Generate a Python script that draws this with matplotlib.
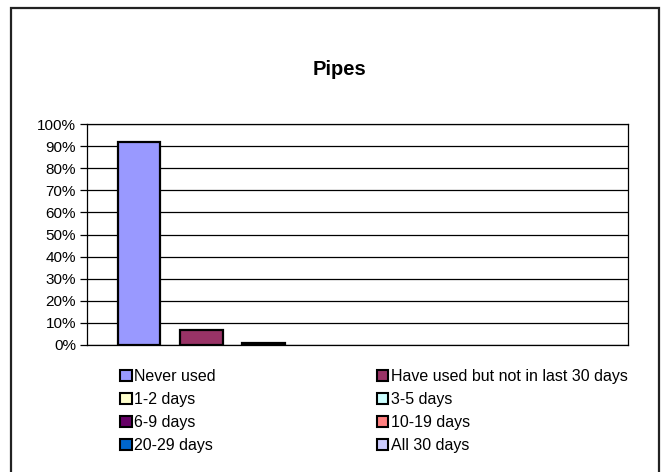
import matplotlib.pyplot as plt
from matplotlib.patches import Rectangle
from matplotlib.ticker import PercentFormatter

plt.rcParams["font.family"] = ["Liberation Sans", "DejaVu Sans"]
plt.rcParams["font.size"] = 11

# data
categories = ["Never used", "Have used but not in last 30 days", "1-2 days", "3-5 days",
              "6-9 days", "10-19 days", "20-29 days", "All 30 days"]
values = [92, 7, 1, 0, 0, 0, 0, 0]
colors = ["#9999FF", "#993366", "#FFFFCC", "#CCFFFF", "#660066", "#FF8080", "#0066CC", "#CCCCFF"]

fig = plt.figure(figsize=(6.66, 4.72), dpi=100)
ax = fig.add_axes([87 / 666, 127 / 472, 541 / 666, 221 / 472])

x = list(range(len(categories)))
for i, v in enumerate(values):
    if v > 0:
        ax.bar(x[i], v, width=0.68, color=colors[i], edgecolor="black", linewidth=1.6, zorder=3)

ax.set_xlim(-0.84, 7.86)
ax.set_ylim(0, 100)
ax.set_yticks(range(0, 101, 10))
ax.yaxis.set_major_formatter(PercentFormatter(decimals=0))
ax.set_xticks([])
ax.grid(axis="y", color="black", linewidth=0.9, zorder=0)
for s in ax.spines.values():
    s.set_linewidth(0.9)
ax.tick_params(axis="y", length=5, width=0.9, pad=3, labelsize=11)

fig.text(339 / 666, 1 - 75 / 472, "Pipes", ha="center", va="baseline", fontsize=14.5, fontweight="bold")

# legend: two columns, filled row by row like the original
def add_column(idx, x0):
    handles = [Rectangle((0, 0), 1, 1, facecolor=colors[i], edgecolor="black", linewidth=1.5) for i in idx]
    labels = [categories[i] for i in idx]
    leg = fig.legend(handles, labels, loc="upper left", bbox_to_anchor=(x0 / 666, 1 - 369 / 472),
                     frameon=False, handlelength=0.72, handleheight=0.72, handletextpad=0.15,
                     labelspacing=0.5, borderaxespad=0, borderpad=0, fontsize=11.5)
    return leg

add_column([0, 2, 4, 6], 120)
add_column([1, 3, 5, 7], 377)

# outer chart border
fig.patches.append(Rectangle((11 / 666, -0.02), 648 / 666, 464 / 472 + 0.02, transform=fig.transFigure,
                             fill=False, edgecolor="#222222", linewidth=1.6))

fig.savefig("out.png", dpi=100)
